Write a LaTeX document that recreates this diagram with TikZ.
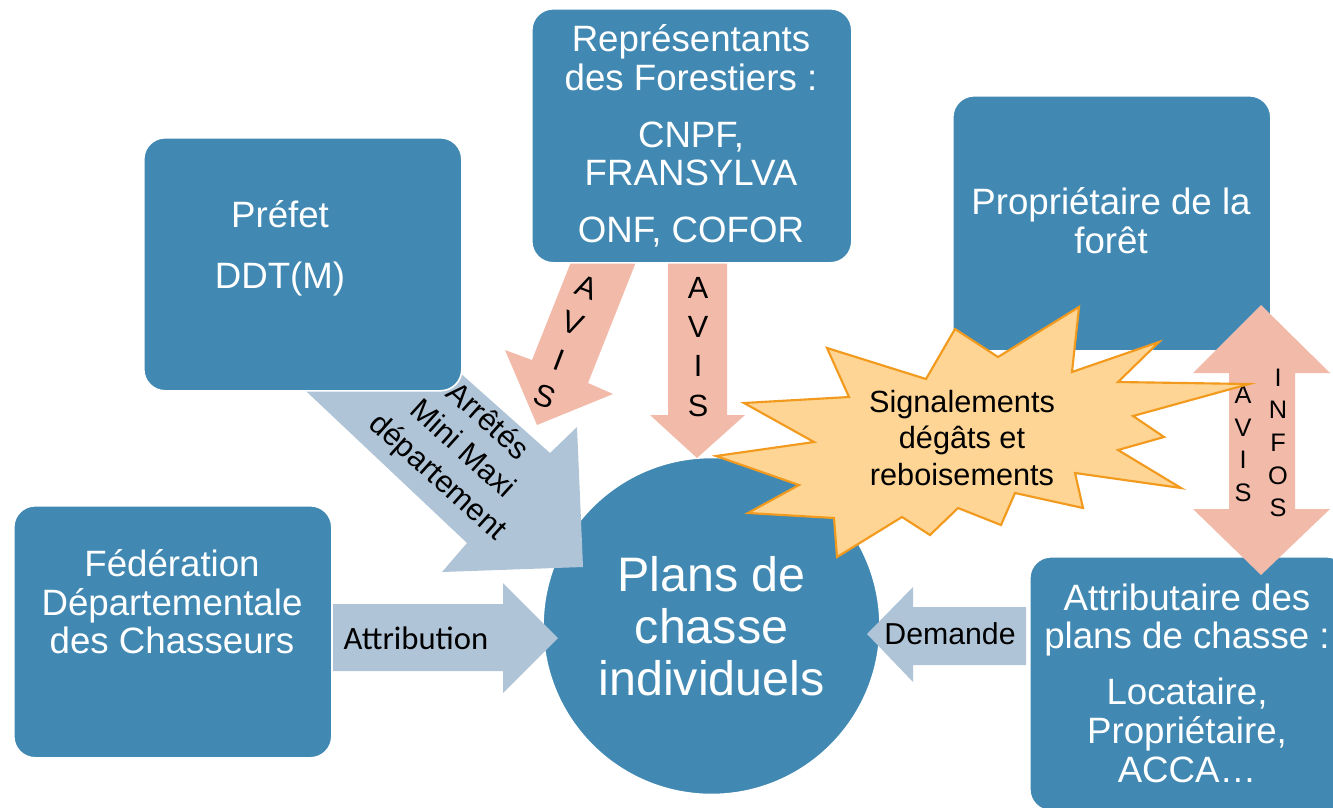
\documentclass[tikz,border=0pt]{standalone}
\usepackage{fontspec}
\setmainfont{Liberation Sans}
\newfontfamily\calfont{Carlito}
\definecolor{bluebox}{HTML}{4189B3}
\definecolor{grayarr}{HTML}{B0C4D7}
\definecolor{salmon}{HTML}{F2BAA9}
\definecolor{starfill}{HTML}{FED594}
\definecolor{stardraw}{HTML}{F29A1D}
\begin{document}
\begin{tikzpicture}[x=0.75pt,y=-0.75pt,
  box/.style={draw=white,line width=1.2pt,fill=bluebox,rounded corners=16pt,anchor=north west,inner sep=0pt},
  boxtext/.style={text=white,align=center,font=\fontsize{27.5}{29}\selectfont},
  grayarrow/.style={fill=grayarr,draw=none},
  salmonarrow/.style={fill=salmon,draw=none},
  lbl/.style={text=black,align=center,font=\fontsize{23}{28}\selectfont},
  avis/.style={text=black,align=center,font=\fontsize{23}{29.3}\selectfont},
  smallavis/.style={text=black,align=center,font=\fontsize{19}{24.5}\selectfont}]
\useasboundingbox (0,0) rectangle (1333,807);
\fill[white] (0,0) rectangle (1333,807);

% central circle
\node (plans) [circle,fill=bluebox,draw=white,line width=1.2pt,minimum size=252.75pt,inner sep=0pt,
  text=white,align=center,font=\fontsize{36.3}{39}\selectfont] at (711.5,626) {Plans de\\chasse\\individuels};

% gray arrows
\fill[grayarrow] (403,322) -- (550,453) -- (577,427) -- (583,567) -- (442,572) -- (467,543) -- (290,376) -- cycle;
\fill[grayarrow] (333,604) -- (503,604) -- (503,583) -- (558,638) -- (503,693) -- (503,671) -- (333,671) -- cycle;
\fill[grayarrow] (1026,607) -- (913,607) -- (913,587) -- (867,634) -- (913,682) -- (913,665) -- (1026,665) -- cycle;

% salmon arrows
\fill[salmonarrow] (571,262) -- (636,262) -- (588,383) -- (613,394) -- (537,425) -- (505,350) -- (532,360) -- cycle;
\fill[salmonarrow] (668,262) -- (727,262) -- (727,415) -- (745,415) -- (697,458) -- (650,415) -- (668,415) -- cycle;

% boxes
\node (prefet) [box,minimum width=238.5pt,minimum height=189.75pt] at (143,137) {};
\node (repr) [box,minimum width=240pt,minimum height=190.5pt] at (531,8) {};
\node (proprio) [box,minimum width=238.5pt,minimum height=191.25pt] at (952,95) {};
\node (fede) [box,minimum width=238.5pt,minimum height=189pt] at (13,505) {};
\node (attrib) [box,minimum width=238.5pt,minimum height=190.5pt] at (1029,556) {};

\node (prefetT) [boxtext] at (280,248) {Préfet\\[16.75pt]DDT(M)};
\node (reprT) [boxtext] at (691,136) {Représentants\\des Forestiers :\\[13.75pt]CNPF,\\FRANSYLVA\\[13.75pt]ONF, COFOR};
\node (proprioT) [boxtext] at (1111,221) {Propriétaire de la\\forêt};
\node (fedeT) [boxtext] at (172,602) {Fédération\\Départementale\\des Chasseurs};
\node (attribT) [boxtext] at (1187,683) {Attributaire des\\plans de chasse :\\[13pt]Locataire,\\Propriétaire,\\ACCA…};

% double arrow
\fill[salmonarrow] (1261,305) -- (1330,373) -- (1295,373) -- (1295,509) -- (1330,509) -- (1261,575)
  -- (1193,509) -- (1229,509) -- (1229,373) -- (1193,373) -- cycle;
\node (avis3) [smallavis] at (1243,444) {A\\V\\I\\S};
\node (infos) [smallavis] at (1278,443) {I\\N\\F\\O\\S};

% starburst
\filldraw[fill=starfill,draw=stardraw,line width=1.6pt,line join=miter]
  (827,348) -- (926,379) -- (955,329) -- (998,357) -- (1079,307) -- (1072,372) -- (1159,342)
  -- (1118,382) -- (1249,384) -- (1133,416) -- (1164,437) -- (1118,450) -- (1181,488)
  -- (1075,473) -- (1083,508) -- (1015,493) -- (1001,525) -- (958,508) -- (930,535)
  -- (902,517) -- (837,557) -- (834,518) -- (748,513) -- (799,485) -- (716,456)
  -- (814,442) -- (744,403) -- (849,397) -- cycle;
\node (signal) [text=black,align=center,font=\fontsize{23}{27.4}\selectfont] at (962,438)
  {Signalements\\dégâts et\\reboisements};

% arrow labels
\node (arretes) [lbl,rotate=-42] at (462,450) {Arrêtés\\Mini Maxi\\département};
\node (attribL) [text=black,font=\calfont\fontsize{24.5}{28}\selectfont] at (416,638) {Attribution};
\node (demandeL) [text=black,font=\fontsize{22.7}{28}\selectfont] at (950,634) {Demande};
\node (avis1) [avis,rotate=-21] at (566,342) {A\\V\\I\\S};
\node (avis2) [avis] at (698,347) {A\\V\\I\\S};
\end{tikzpicture}
\end{document}
